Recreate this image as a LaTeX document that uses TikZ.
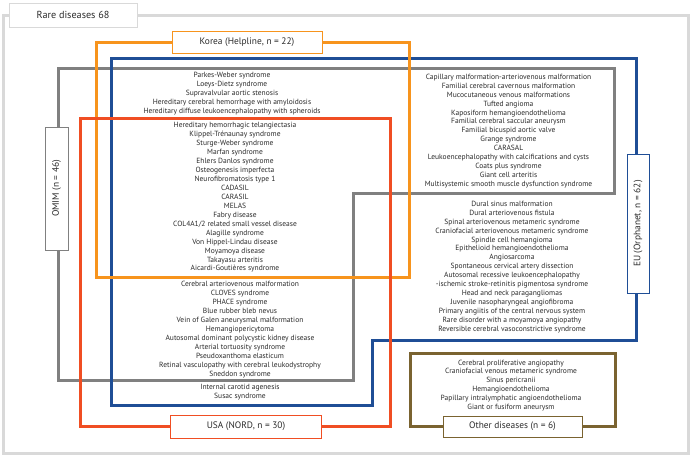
\documentclass[tikz,border=0pt]{standalone}
\usepackage{fontspec}
\setmainfont{PT Sans}
\definecolor{frame}{HTML}{D9D9D9}
\definecolor{kor}{HTML}{F7941D}
\definecolor{eu}{HTML}{1F4E96}
\definecolor{omim}{HTML}{808080}
\definecolor{usa}{HTML}{F04E23}
\definecolor{oth}{HTML}{7A6330}
\definecolor{txt}{HTML}{2B2B2B}
\begin{document}
\begin{tikzpicture}[x=1pt,y=-1pt,
  setline/.style={line width=3pt},
  lab/.style={draw=#1,fill=white,line width=0.6pt,text=txt,inner sep=0pt,font=\fontsize{9.4}{11}\selectfont},
  lst/.style={text=txt,align=center,inner sep=0pt,font=\fontsize{7.5}{8.95}\selectfont}]
\useasboundingbox (0,0) rectangle (693,457);
\fill[white] (0,0) rectangle (693,457);
% outer frame
\draw[frame,setline] (3,16) rectangle (688,453);
% OMIM (gray)
\draw[omim,setline] (58,69) -- (614,69) -- (614,194) -- (353,194) -- (353,380) -- (58,380) -- cycle;
% EU (blue)
\draw[eu,setline] (111,59) -- (636,59) -- (636,340) -- (372,340) -- (372,405) -- (111,405) -- cycle;
% Korea (orange)
\draw[kor,setline] (96,43) rectangle (409,277);
% USA (red)
\draw[usa,setline] (80,119) rectangle (390,426);
% Other (brown)
\draw[oth,setline] (410,353) rectangle (615,426);
% labels
\node[lab=frame,minimum width=128pt,minimum height=24pt,font=\fontsize{10.2}{12}\selectfont] (rare) at (73,15) {Rare diseases 68};
\node[lab=kor,minimum width=150pt,minimum height=22pt] (korea) at (247,42) {Korea (Helpline, n = 22)};
\node[lab=usa,minimum width=151pt,minimum height=23pt] (usalab) at (246,426.5) {USA (NORD, n = 30)};
\node[lab=oth,minimum width=139pt,minimum height=21pt] (othlab) at (512.5,426.5) {Other diseases (n = 6)};
\node[lab=omim,minimum width=123pt,minimum height=23pt,rotate=90] (omimlab) at (56.5,188.5) {OMIM (n = 46)};
\node[lab=eu,minimum width=139pt,minimum height=22pt,rotate=90] (eulab) at (638,223.5) {EU (Orphanet, n = 62)};
% lists
\node[lst] (l1) at (232,94) {Parkes-Weber syndrome\\Loeys-Dietz syndrome\\Supravalvular aortic stenosis\\Hereditary cerebral hemorrhage with amyloidosis\\Hereditary diffuse leukoencephalopathy with spheroids};
\node[lst] (l2) at (235,197.5) {Hereditary hemorrhagic telangiectasia\\Klippel-Trénaunay syndrome\\Sturge-Weber syndrome\\Marfan syndrome\\Ehlers Danlos syndrome\\Osteogenesis imperfecta\\Neurofibromatosis type 1\\CADASIL\\CARASIL\\MELAS\\Fabry disease\\COL4A1/2 related small vessel disease\\Alagille syndrome\\Von Hippel-Lindau disease\\Moyamoya disease\\Takayasu arteritis\\Aicardi-Goutières syndrome};
\node[lst] (l3) at (240,329.5) {Cerebral arteriovenous malformation\\CLOVES syndrome\\PHACE syndrome\\Blue rubber bleb nevus\\Vein of Galen aneurysmal malformation\\Hemangiopericytoma\\Autosomal dominant polycystic kidney disease\\Arterial tortuosity syndrome\\Pseudoxanthoma elasticum\\Retinal vasculopathy with cerebral leukodystrophy\\Sneddon syndrome};
\node[lst] (l4) at (240,392.5) {Internal carotid agenesis\\Susac syndrome};
\node[lst] (r1) at (508.5,131) {Capillary malformation-arteriovenous malformation\\Familial cerebral cavernous malformation\\Mucocutaneous venous malformations\\Tufted angioma\\Kaposiform hemangioendothelioma\\Familial cerebral saccular aneurysm\\Familial bicuspid aortic valve\\Grange syndrome\\CARASAL\\Leukoencephalopathy with calcifications and cysts\\Coats plus syndrome\\Giant cell arteritis\\Multisystemic smooth muscle dysfunction syndrome};
\node[lst] (r2) at (512,267) {Dural sinus malformation\\Dural arteriovenous fistula\\Spinal arteriovenous metameric syndrome\\Craniofacial arteriovenous metameric syndrome\\Spindle cell hemangioma\\Epithelioid hemangioendothelioma\\Angiosarcoma\\Spontaneous cervical artery dissection\\Autosomal recessive leukoencephalopathy\\-ischemic stroke-retinitis pigmentosa syndrome\\Head and neck paragangliomas\\Juvenile nasopharyngeal angiofibroma\\Primary angiitis of the central nervous system\\Rare disorder with a moyamoya angiopathy\\Reversible cerebral vasoconstrictive syndrome};
\node[lst] (r3) at (511,385.5) {Cerebral proliferative angiopathy\\Craniofacial venous metameric syndrome\\Sinus pericranii\\Hemangioendothelioma\\Papillary intralymphatic angioendothelioma\\Giant or fusiform aneurysm};
\end{tikzpicture}
\end{document}
